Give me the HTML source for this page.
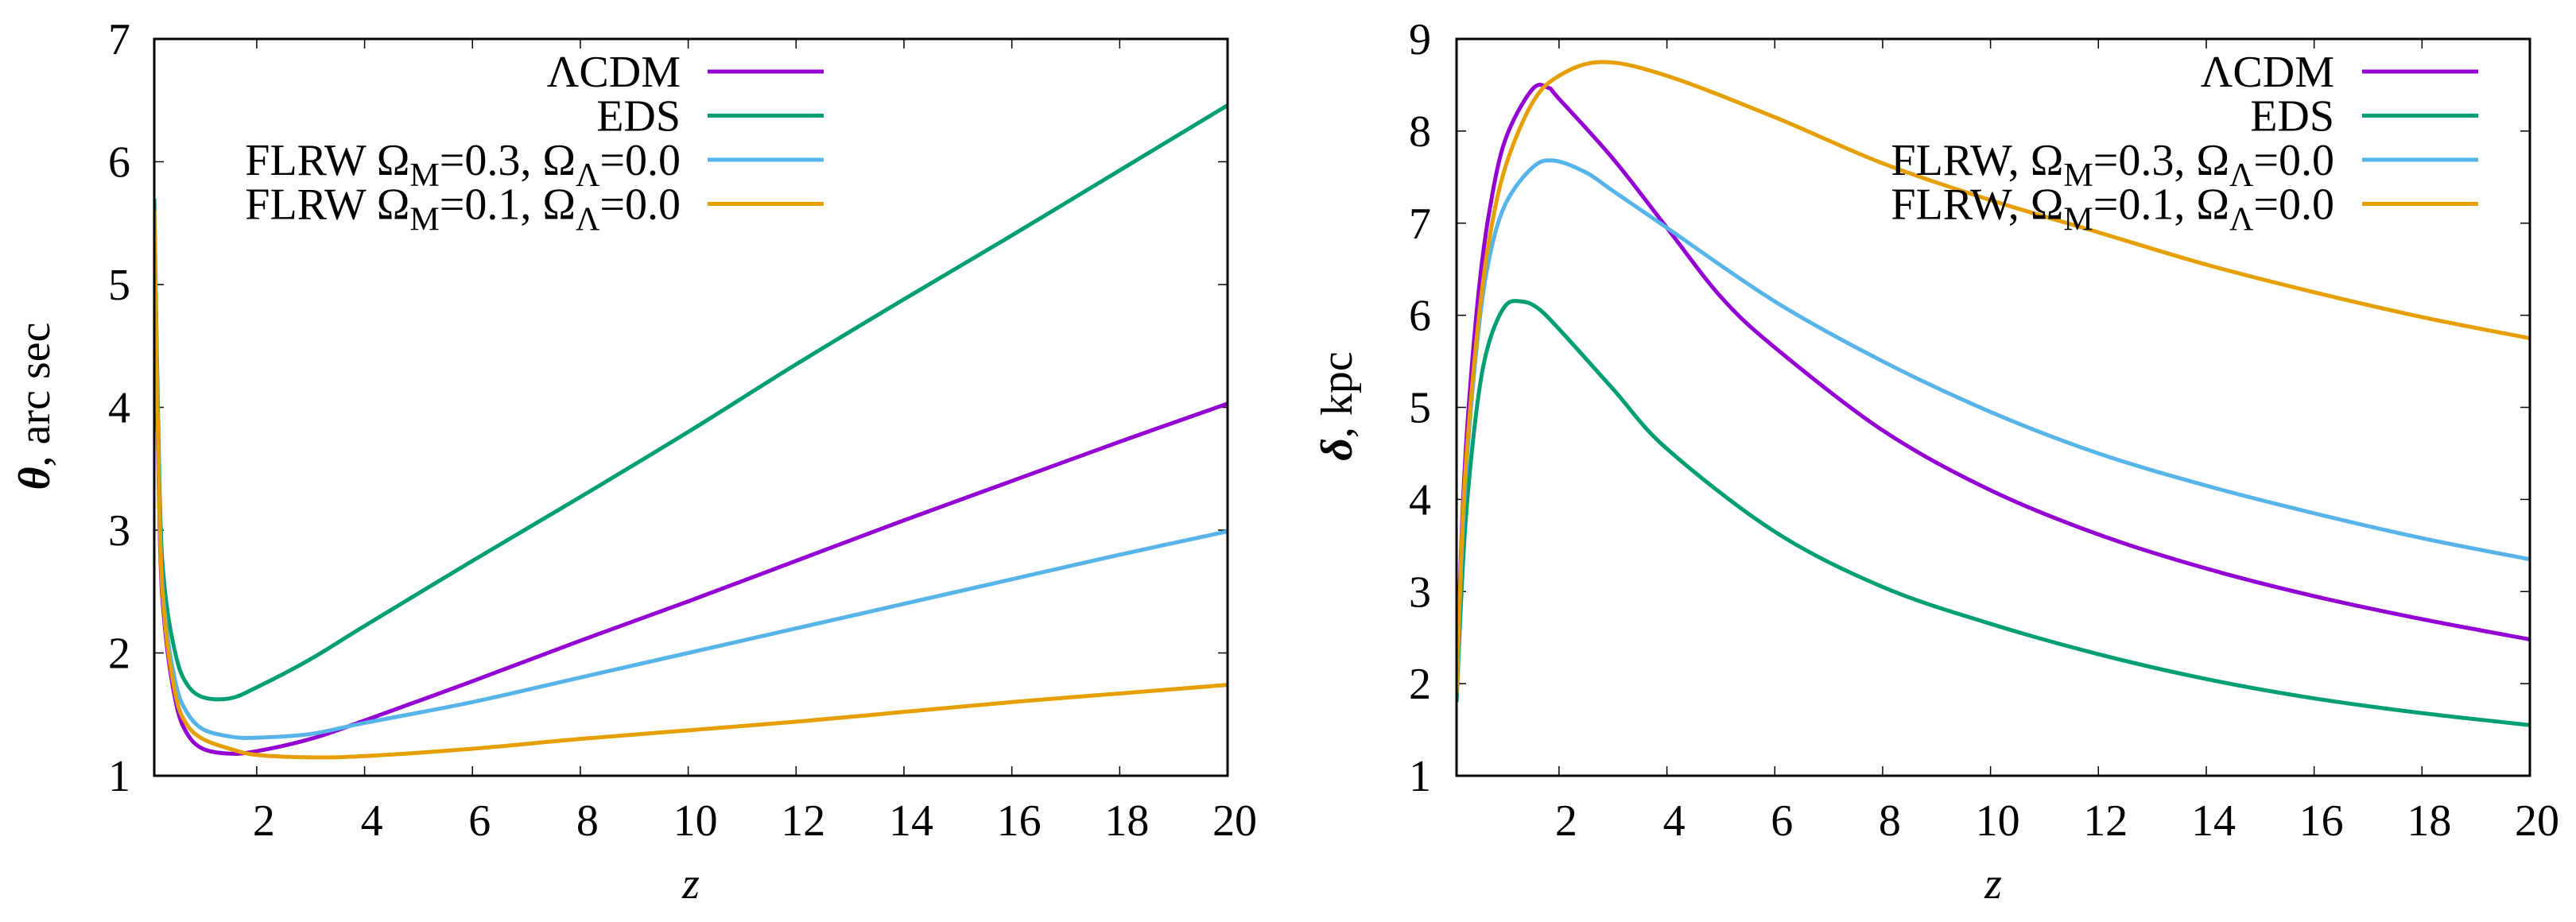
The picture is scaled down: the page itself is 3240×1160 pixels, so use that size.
<!DOCTYPE html>
<html><head><meta charset="utf-8"><style>
html,body{margin:0;padding:0;background:#fff}
svg{display:block;font-family:"Liberation Serif","DejaVu Serif",serif}
</style></head><body>
<svg id="fig" width="3240" height="1160" viewBox="0 0 3240 1160" xmlns="http://www.w3.org/2000/svg"></svg>
<script>
// ---- data: left panel (theta, arc sec) ----
const zL = [0.1,0.2,0.3,0.5,0.7,1,1.5,2,3,4,6,8,10,12,14,16,18,20];
const thetaLCDM = [5.4,3.0,2.2,1.6,1.35,1.22,1.18,1.2,1.3,1.45,1.77,2.1,2.42,2.75,3.08,3.4,3.72,4.03];
const thetaEDS  = [5.7,3.3,2.5,1.98,1.75,1.64,1.63,1.72,1.95,2.22,2.75,3.27,3.8,4.35,4.88,5.4,5.93,6.46];
const thetaF03  = [5.5,3.1,2.3,1.75,1.52,1.38,1.32,1.31,1.34,1.43,1.6,1.8,2.0,2.2,2.4,2.6,2.8,2.99];
const thetaF01  = [5.6,3.1,2.25,1.65,1.42,1.3,1.22,1.17,1.15,1.16,1.22,1.3,1.37,1.44,1.52,1.6,1.67,1.74];
// ---- data: right panel (delta, kpc) ----
const zR_LCDM = [0.1,0.2,0.3,0.5,0.7,1,1.5,1.8,2,3,4,5,6,8,10,12,14,16,18,20];
const deltaLCDM = [2.0,3.7,4.8,6.2,7.1,7.9,8.45,8.47,8.35,7.7,6.95,6.2,5.65,4.75,4.1,3.62,3.25,2.95,2.7,2.48];
const zR_EDS = [0.1,0.2,0.3,0.5,0.7,1,1.3,1.6,2,3,4,6,8,10,12,14,16,18,20];
const deltaEDS = [1.8,3.1,4.0,5.1,5.7,6.1,6.15,6.08,5.85,5.2,4.55,3.65,3.05,2.65,2.32,2.05,1.84,1.68,1.55];
const zR_F03 = [0.1,0.2,0.3,0.5,0.7,1,1.5,1.9,2.5,3,4,6,8,10,12,14,16,18,20];
const deltaF03 = [1.9,3.5,4.5,5.8,6.6,7.2,7.6,7.68,7.55,7.35,6.95,6.15,5.5,4.95,4.5,4.15,3.85,3.58,3.35];
const zR_F01 = [0.1,0.2,0.3,0.5,0.7,1,1.5,2,2.8,4,6,8,10,12,14,16,18,20];
const deltaF01 = [1.9,3.6,4.6,5.9,6.8,7.6,8.3,8.6,8.75,8.6,8.15,7.65,7.25,6.9,6.55,6.25,5.98,5.75];
const xTicks = [2,4,6,8,10,12,14,16,18,20];
const yTicksL = [1,2,3,4,5,6,7];
const yTicksR = [1,2,3,4,5,6,7,8,9];

const NS="http://www.w3.org/2000/svg";
const svg=document.getElementById('fig');
function el(tag,attrs,parent){const e=document.createElementNS(NS,tag);for(const k in attrs)e.setAttribute(k,attrs[k]);(parent||svg).appendChild(e);return e;}

const colors={lcdm:'#9400d3',eds:'#009e73',f03:'#56b4e9',f01:'#e69f00'};

function panel(cfg){
  const g=el('g',{});
  
  
  const L=cfg.x0,R=cfg.x1,T=49,B=976;
  const xs=z=>L+(z-0.1)/(20-0.1)*(R-L);
  const ys=v=>B-(v-cfg.ymin)/(cfg.ymax-cfg.ymin)*(B-T);
  cfg.yTicks.forEach(t=>{
    const y=ys(t);
    const tk=el('path',{d:`M${L},${y}h12M${R},${y}h-12`,stroke:'#000','stroke-width':1.5},g);
    
    
    const tx=el('text',{x:cfg.ylabX,y:y+19,'font-size':56,'text-anchor':'middle'},g);
    
    
    tx.textContent=t;
  });
  xTicks.forEach(t=>{
    const x=xs(t);
    const tk=el('path',{d:`M${x},${B}v-12M${x},${T}v12`,stroke:'#000','stroke-width':1.5},g);
    
    
    const tx=el('text',{x:x+9,y:1051,'font-size':56,'text-anchor':'middle'},g);
    
    
    tx.textContent=t;
  });
  const clip='clip'+cfg.name;
  const cp=el('clipPath',{id:clip},g);
  el('rect',{x:L,y:T,width:R-L,height:B-T},cp);
  cfg.series.forEach(s=>{
    const pts=s.z.map((z,i)=>[xs(z),ys(s.v[i])]);
    let d=`M${pts[0][0]},${pts[0][1]}`;
    for(let i=0;i<pts.length-1;i++){
      const p0=pts[Math.max(0,i-1)],p1=pts[i],p2=pts[i+1],p3=pts[Math.min(pts.length-1,i+2)];
      const c1=[p1[0]+(p2[0]-p0[0])/6,p1[1]+(p2[1]-p0[1])/6];
      const c2=[p2[0]-(p3[0]-p1[0])/6,p2[1]-(p3[1]-p1[1])/6];
      d+=`C${c1[0]},${c1[1]} ${c2[0]},${c2[1]} ${p2[0]},${p2[1]}`;
    }
    const p=el('path',{d,fill:'none',stroke:s.color,'stroke-width':5,'stroke-linejoin':'round','clip-path':`url(#${clip})`},g);
    
    
  });
  const fr=el('rect',{x:L,y:T,width:R-L,height:B-T,fill:'none',stroke:'#000','stroke-width':3},g);
  
  
  cfg.series.forEach((s,i)=>{
    const y=90+i*55.5;
    const lg=el('g',{},g);
    
    
    const t=el('text',{x:cfg.legTextX,y:y+19,'font-size':56,'text-anchor':'end'},lg);
    t.innerHTML=s.label;
    el('line',{x1:cfg.legLineX,x2:cfg.legLineX+146,y1:y,y2:y,stroke:s.color,'stroke-width':5},lg);
  });
  const yt=el('text',{x:cfg.ytitleX,y:511,'font-size':56,'text-anchor':'middle',transform:`rotate(-90 ${cfg.ytitleX} 511)`},g);
  
  
  yt.innerHTML=cfg.ytitle;
  const xt=el('text',{x:(L+R)/2,y:1130,'font-size':56,'text-anchor':'middle','font-style':'italic'},g);
  
  
  xt.textContent='z';
}
const sub=(a)=>`<tspan baseline-shift="-14" font-size="42">${a}</tspan>`;
panel({name:'theta-panel',x0:194,x1:1544,ymin:1,ymax:7,yTicks:yTicksL,ylabX:150,
  ytitleX:62,ytitle:'<tspan font-weight="bold" font-style="italic">θ</tspan>, arc sec',
  legTextX:856,legLineX:890,
  series:[
    {id:'lcdm',z:zL,v:thetaLCDM,color:colors.lcdm,label:'ΛCDM'},
    {id:'eds',z:zL,v:thetaEDS,color:colors.eds,label:'EDS'},
    {id:'flrw-03',z:zL,v:thetaF03,color:colors.f03,label:`FLRW Ω${sub('M')}=0.3, Ω${sub('Λ')}=0.0`},
    {id:'flrw-01',z:zL,v:thetaF01,color:colors.f01,label:`FLRW Ω${sub('M')}=0.1, Ω${sub('Λ')}=0.0`}
  ]});
panel({name:'delta-panel',x0:1832,x1:3182,ymin:1,ymax:9,yTicks:yTicksR,ylabX:1786,
  ytitleX:1700,ytitle:'<tspan font-style="italic" font-weight="bold">δ</tspan>, kpc',
  legTextX:2936,legLineX:2971,
  series:[
    {id:'lcdm',z:zR_LCDM,v:deltaLCDM,color:colors.lcdm,label:'ΛCDM'},
    {id:'eds',z:zR_EDS,v:deltaEDS,color:colors.eds,label:'EDS'},
    {id:'flrw-03',z:zR_F03,v:deltaF03,color:colors.f03,label:`FLRW, Ω${sub('M')}=0.3, Ω${sub('Λ')}=0.0`},
    {id:'flrw-01',z:zR_F01,v:deltaF01,color:colors.f01,label:`FLRW, Ω${sub('M')}=0.1, Ω${sub('Λ')}=0.0`}
  ]});
</script>
</body></html>
